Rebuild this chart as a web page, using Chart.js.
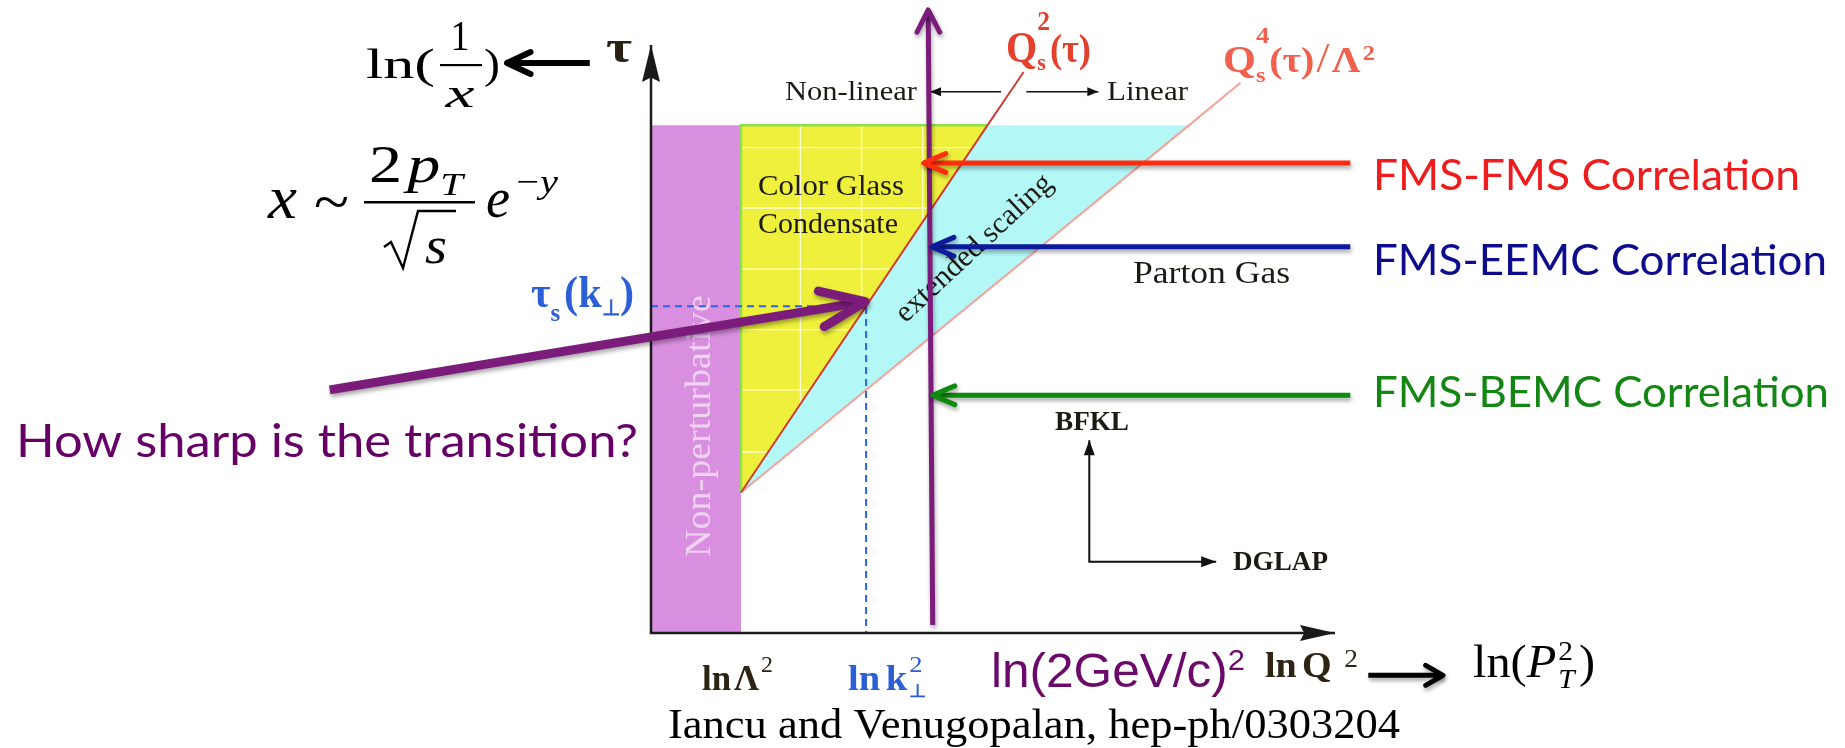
<!DOCTYPE html>
<html>
<head>
<meta charset="utf-8">
<title>Saturation phase diagram</title>
<script src="https://cdn.jsdelivr.net/npm/chart.js@4.4.1/dist/chart.umd.min.js"></script>
<style>
  html, body { margin: 0; padding: 0; background: #ffffff; }
  canvas { display: block; }
</style>
</head>
<body>
<canvas id="diagram" width="1845" height="748"></canvas>
<script>
// ---- phase diagram in the (ln Q², τ) plane ----
const axisEnd          = { x: 7.6, y: 6.53 };
const lnLambda2        = 1.0;                 // edge of the non-perturbative strip
const regionTop        = 5.64;                // upper edge of the shaded regions
const saturationOnset  = { x: 1.0, y: 1.56 };
const qs2Boundary      = [ { x: 1.0, y: 1.56 }, { x: 3.74, y: 5.64 }, { x: 4.14, y: 6.23 } ];
const qs4Boundary      = [ { x: 1.0, y: 1.56 }, { x: 5.98, y: 5.64 }, { x: 6.55, y: 6.11 } ];
const lnKperp2         = 2.39;
const tauSat           = 3.63;
const cgcGridX         = [1.66, 2.34, 3.02];
const cgcGridY         = [5.39, 4.72, 4.04, 3.37, 2.70, 2.01];
const cut2GeV          = [ { x: 3.13, y: 0.09 }, { x: 3.08, y: 6.92 } ];
const correlationNames = ['FMS-FMS Correlation', 'FMS-EEMC Correlation', 'FMS-BEMC Correlation'];
const correlationTau   = [5.22, 4.29, 2.64];
const correlationTip   = [3.03, 3.12, 3.13];
const correlationTail  = 7.77;
const transitionArrow  = [ { x: -3.57, y: 2.70 }, { x: 2.38, y: 3.68 } ];
const evolutionCorner  = { x: 4.87, y: 0.79 };
const bfklTipTau       = 2.14;
const dglapTipX        = 6.28;
const regimeTau        = 6.01;
const nonLinearSpan    = [3.89, 3.10];
const linearSpan       = [4.17, 4.97];
const lnInvXArrow      = [ { x: -0.68, y: 6.33 }, { x: -1.60, y: 6.33 } ];
const lnPtArrow        = [ { x: 7.97, y: -0.47 }, { x: 8.80, y: -0.47 } ];

const SERIF = '"Liberation Serif", "Times New Roman", serif';
const SANS  = '"Liberation Sans", Arial, sans-serif';
const HUMAN = 'Lato, "Open Sans", sans-serif';
const font = (size, family, style) => (style ? style + ' ' : '') + size + 'px ' + family;

const PURPLE = '#7b1c7b';
const corrColors = ['#ff2d0d', '#0b1b9c', '#0f8a0f'];
const corrText   = ['#ee1c1c', '#0c0c8c', '#138613'];

// draw a run of text pieces (sub/superscripts) stretched to a given width
function rich(ctx, parts, x, y, o = {}) {
  let cur = 0, prevStart = 0;
  const placed = parts.map(p => {
    ctx.font = p.font;
    const w = ctx.measureText(p.t).width;
    const start = p.stack ? prevStart : cur + (p.pre || 0);
    prevStart = start;
    cur = Math.max(cur, start + w);
    return { p, start };
  });
  const sx = o.width ? o.width / cur : 1;
  const off = o.align === 'center' ? -cur * sx / 2 : o.align === 'right' ? -cur * sx : 0;
  ctx.save();
  ctx.translate(x, y);
  if (o.rotate) ctx.rotate(o.rotate);
  ctx.translate(off, o.dy || 0);
  ctx.scale(sx, 1);
  ctx.textAlign = 'left';
  ctx.textBaseline = 'alphabetic';
  placed.forEach(({ p, start }) => {
    ctx.font = p.font;
    ctx.fillStyle = p.color || o.color || '#000';
    ctx.fillText(p.t, start, p.dy || 0);
  });
  ctx.restore();
}

function drawHead(ctx, tip, from, spec, color, lw) {
  const ang = Math.atan2(tip.y - from.y, tip.x - from.x) + Math.PI;
  const spread = spec.kind === 'solid' ? Math.atan2(spec.half, spec.len) : spec.spread * Math.PI / 180;
  const L = spec.kind === 'solid' ? Math.hypot(spec.len, spec.half) : spec.len;
  const p1 = { x: tip.x + L * Math.cos(ang + spread), y: tip.y + L * Math.sin(ang + spread) };
  const p2 = { x: tip.x + L * Math.cos(ang - spread), y: tip.y + L * Math.sin(ang - spread) };
  ctx.save();
  ctx.beginPath();
  if (spec.kind === 'solid') {
    const n = spec.len * (1 - (spec.notch || 0));
    ctx.moveTo(tip.x, tip.y);
    ctx.lineTo(p1.x, p1.y);
    ctx.lineTo(tip.x + n * Math.cos(ang), tip.y + n * Math.sin(ang));
    ctx.lineTo(p2.x, p2.y);
    ctx.closePath();
    ctx.fillStyle = color;
    ctx.fill();
  } else {
    ctx.moveTo(p1.x, p1.y);
    ctx.lineTo(tip.x, tip.y);
    ctx.lineTo(p2.x, p2.y);
    ctx.strokeStyle = color;
    ctx.lineWidth = lw;
    ctx.lineCap = 'round';
    ctx.lineJoin = 'round';
    ctx.stroke();
  }
  ctx.restore();
}

function drawCgcGrid(chart) {
  const ctx = chart.ctx, X = v => chart.scales.x.getPixelForValue(v), Y = v => chart.scales.y.getPixelForValue(v);
  ctx.save();
  ctx.beginPath();
  ctx.moveTo(X(qs2Boundary[0].x), Y(qs2Boundary[0].y));
  ctx.lineTo(X(qs2Boundary[1].x), Y(qs2Boundary[1].y));
  ctx.lineTo(X(lnLambda2), Y(regionTop));
  ctx.closePath();
  ctx.clip();
  ctx.strokeStyle = 'rgba(255,255,255,0.8)';
  ctx.lineWidth = 1.3;
  ctx.beginPath();
  cgcGridX.forEach(v => { ctx.moveTo(X(v), Y(0)); ctx.lineTo(X(v), Y(regionTop)); });
  cgcGridY.forEach(v => { ctx.moveTo(X(0), Y(v)); ctx.lineTo(X(axisEnd.x), Y(v)); });
  ctx.stroke();
  ctx.restore();
}

function drawRegionLabels(chart) {
  const ctx = chart.ctx;
  const ink = '#1c1a12';
  rich(ctx, [{ t: 'Non-perturbative', font: font(36, SERIF) }], 710, 557,
       { rotate: -Math.PI / 2, width: 262, color: 'rgba(255,255,255,0.6)' });
  rich(ctx, [{ t: 'Color Glass', font: font(30, SERIF) }], 758, 195, { width: 146, color: ink });
  rich(ctx, [{ t: 'Condensate', font: font(30, SERIF) }], 758, 233, { width: 140, color: ink });
  rich(ctx, [{ t: 'extended scaling', font: font(30, SERIF) }], 973, 247,
       { rotate: -43 * Math.PI / 180, align: 'center', dy: 10, width: 203, color: ink });
  rich(ctx, [{ t: 'Parton Gas', font: font(32, SERIF) }], 1133, 283, { width: 157, color: ink });
  rich(ctx, [{ t: 'BFKL', font: font(27, SERIF, 'bold') }], 1055, 430, { width: 74, color: ink });
  rich(ctx, [{ t: 'DGLAP', font: font(27, SERIF, 'bold') }], 1233, 570, { width: 95, color: ink });
  rich(ctx, [{ t: 'Non-linear', font: font(28, SERIF) }], 785, 100, { width: 132, color: ink });
  rich(ctx, [{ t: 'Linear', font: font(28, SERIF) }], 1107, 100, { width: 81, color: ink });
  rich(ctx, [
    { t: 'Q', font: font(44, SERIF, 'bold') },
    { t: '2', font: font(28, SERIF, 'bold'), dy: -32 },
    { t: 's', font: font(24, SERIF, 'bold'), dy: 8, stack: true },
    { t: '(τ)', font: font(40, SERIF, 'bold') }
  ], 1006, 62, { width: 85, color: '#e4402e' });
  rich(ctx, [
    { t: 'Q', font: font(38, SERIF, 'bold') },
    { t: '4', font: font(24, SERIF, 'bold'), dy: -29 },
    { t: 's', font: font(22, SERIF, 'bold'), dy: 10, stack: true },
    { t: '(τ)', font: font(36, SERIF, 'bold') },
    { t: '/', font: font(42, SERIF), pre: 2 },
    { t: 'Λ', font: font(36, SERIF, 'bold'), pre: 2 },
    { t: '2', font: font(22, SERIF, 'bold'), dy: -12, pre: 2 }
  ], 1223, 72, { width: 152, color: '#f0604c' });
}

function drawOuterLabels(chart) {
  const ctx = chart.ctx;
  // ln(1/x)
  rich(ctx, [{ t: 'ln(', font: font(42, SERIF) }], 366, 78, { width: 69 });
  rich(ctx, [{ t: '1', font: font(42, SERIF) }], 460, 50, { align: 'center', width: 19 });
  ctx.fillStyle = '#000';
  ctx.fillRect(440, 64, 42, 2.2);
  rich(ctx, [{ t: 'x', font: font(42, SERIF, 'italic') }], 460, 107, { align: 'center', width: 29 });
  rich(ctx, [{ t: ')', font: font(42, SERIF) }], 484, 78, { width: 16 });

  // x ~ 2 p_T / sqrt(s) e^{-y}
  rich(ctx, [{ t: 'x', font: font(62, SERIF, 'italic') }], 268, 218, { width: 29 });
  rich(ctx, [{ t: '~', font: font(60, SERIF) }], 314, 222, { width: 35 });
  rich(ctx, [
    { t: '2', font: font(52, SERIF) },
    { t: 'p', font: font(52, SERIF, 'italic'), pre: 4 },
    { t: 'T', font: font(32, SERIF, 'italic'), dy: 13 }
  ], 369, 182, { width: 94 });
  ctx.fillRect(364, 201, 111, 2.5);
  ctx.save();
  ctx.strokeStyle = '#000';
  ctx.lineWidth = 2.4;
  ctx.lineJoin = 'miter';
  ctx.beginPath();
  ctx.moveTo(384, 247); ctx.lineTo(391, 242); ctx.lineTo(403, 268); ctx.lineTo(418, 211); ctx.lineTo(456, 211);
  ctx.stroke();
  ctx.restore();
  rich(ctx, [{ t: 's', font: font(52, SERIF, 'italic') }], 425, 263, { width: 22 });
  rich(ctx, [{ t: 'e', font: font(58, SERIF, 'italic') }], 486, 217, { width: 24 });
  rich(ctx, [
    { t: '−', font: font(34, SERIF) },
    { t: 'y', font: font(34, SERIF, 'italic'), pre: 1 }
  ], 516, 193, { width: 42 });

  // axis names
  rich(ctx, [{ t: 'τ', font: font(46, SERIF, 'bold') }], 606, 62, { width: 26, color: '#2a2014' });
  rich(ctx, [
    { t: 'τ', font: font(44, SERIF, 'bold') },
    { t: 's', font: font(26, SERIF, 'bold'), dy: 14 },
    { t: '(k', font: font(44, SERIF, 'bold'), pre: 4 },
    { t: '⊥', font: font(22, SERIF, 'bold'), dy: 8 },
    { t: ')', font: font(44, SERIF, 'bold') }
  ], 634, 307, { align: 'right', width: 103, color: '#2c5fd6' });

  // positions on the ln Q² axis
  const tickInk = '#2d2414';
  rich(ctx, [
    { t: 'ln', font: font(35, SERIF, 'bold') },
    { t: 'Λ', font: font(35, SERIF, 'bold'), pre: 3 },
    { t: '2', font: font(24, SERIF), dy: -18, pre: 2 }
  ], 702, 690, { width: 71, color: tickInk });
  rich(ctx, [
    { t: 'ln', font: font(35, SERIF, 'bold') },
    { t: 'k', font: font(35, SERIF, 'bold'), pre: 5 },
    { t: '2', font: font(24, SERIF), dy: -18, pre: 2 },
    { t: '⊥', font: font(18, SERIF, 'bold'), dy: 7, stack: true }
  ], 848, 690, { width: 79, color: '#2c5fd6' });
  rich(ctx, [
    { t: 'ln(2GeV/c)', font: font(48, SANS) },
    { t: '2', font: font(30, SANS), dy: -17 }
  ], 991, 687, { width: 254, color: '#6b0a6b' });
  rich(ctx, [
    { t: 'ln', font: font(36, SERIF, 'bold') },
    { t: 'Q', font: font(36, SERIF, 'bold'), pre: 5 },
    { t: '2', font: font(26, SERIF), dy: -10, pre: 12 }
  ], 1265, 677, { width: 93, color: tickInk });
  rich(ctx, [
    { t: 'ln(', font: font(46, SERIF) },
    { t: 'P', font: font(46, SERIF, 'italic') },
    { t: '2', font: font(28, SERIF), dy: -17, pre: 2 },
    { t: 'T', font: font(28, SERIF, 'italic'), dy: 11, stack: true },
    { t: ')', font: font(46, SERIF), pre: 4 }
  ], 1473, 677, { width: 122 });

  rich(ctx, [{ t: 'Iancu and Venugopalan, hep-ph/0303204', font: font(43, SERIF) }], 668, 738, { width: 732 });
  rich(ctx, [{ t: 'How sharp is the transition?', font: font(47, HUMAN) }], 16, 457, { width: 622, color: '#660066' });

  const corrBase = [190, 275, 407];
  const corrWidth = [427, 454, 456];
  correlationNames.forEach((name, i) => {
    rich(ctx, [{ t: name, font: font(42, HUMAN) }], 1373, corrBase[i], { width: corrWidth[i], color: corrText[i] });
  });
}

const shadowed = new Set();
const annotate = {
  id: 'phaseAnnotations',
  beforeDatasetDraw(chart, args) {
    const ds = chart.data.datasets[args.index];
    if (ds.shadow) {
      const c = chart.ctx;
      c.save();
      c.shadowColor = 'rgba(0,0,0,0.35)';
      c.shadowBlur = 4;
      c.shadowOffsetX = 1;
      c.shadowOffsetY = 3;
      shadowed.add(args.index);
    }
  },
  afterDatasetDraw(chart, args) {
    const ds = chart.data.datasets[args.index];
    const pts = args.meta.data;
    if (ds.head && pts.length > 1) {
      if (ds.head.end) drawHead(chart.ctx, pts[pts.length - 1], pts[pts.length - 2], ds.head.end, ds.borderColor, ds.borderWidth);
      if (ds.head.start) drawHead(chart.ctx, pts[0], pts[1], ds.head.start, ds.borderColor, ds.borderWidth);
    }
    if (shadowed.has(args.index)) { chart.ctx.restore(); shadowed.delete(args.index); }
    if (ds.role === 'cgc') drawCgcGrid(chart);
    if (ds.role === 'qs2') drawRegionLabels(chart);
  },
  afterDraw(chart) { drawOuterLabels(chart); }
};

const base = { pointRadius: 0, pointHoverRadius: 0, tension: 0, fill: false, clip: false,
               backgroundColor: 'transparent', borderCapStyle: 'butt' };
const ds = (o) => Object.assign({}, base, o);

const datasets = [
  ds({ role: 'cyanBand', data: qs4Boundary.slice(0, 2), fill: { value: regionTop }, backgroundColor: '#b3f7f7', borderWidth: 0, order: 100 }),
  ds({ role: 'nonPert', data: [{ x: 0, y: regionTop }, { x: lnLambda2, y: regionTop }], fill: 'origin', backgroundColor: '#d98fe0', borderWidth: 0, order: 95 }),
  ds({ role: 'cgc', data: qs2Boundary.slice(0, 2), fill: { value: regionTop }, backgroundColor: '#eef03c', borderWidth: 0, order: 90 }),
  ds({ role: 'cgcEdge', data: [{ x: lnLambda2, y: saturationOnset.y }, { x: lnLambda2, y: regionTop }, { x: qs2Boundary[1].x, y: regionTop }],
       borderColor: '#8ee04c', borderWidth: 2.5, order: 85 }),
  ds({ role: 'qs4', data: qs4Boundary, borderColor: '#f5a39a', borderWidth: 2, order: 80 }),
  ds({ role: 'qs2', data: qs2Boundary, borderColor: '#cc3f36', borderWidth: 2, order: 75 }),
  ds({ role: 'tauS', data: [{ x: 0, y: tauSat }, { x: lnKperp2, y: tauSat }, { x: lnKperp2, y: 0 }],
       borderColor: '#2a62e8', borderWidth: 2, borderDash: [7, 5], order: 70 }),
  ds({ role: 'axes', data: [{ x: 0, y: axisEnd.y }, { x: 0, y: 0 }, { x: axisEnd.x, y: 0 }], borderColor: '#1a1a1a', borderWidth: 2.5,
       order: 60, head: { start: { kind: 'solid', len: 37, half: 9, notch: 0.12 }, end: { kind: 'solid', len: 35, half: 8, notch: 0.12 } } }),
  ds({ role: 'evolution', data: [{ x: evolutionCorner.x, y: bfklTipTau }, evolutionCorner, { x: dglapTipX, y: evolutionCorner.y }],
       borderColor: '#111', borderWidth: 2, order: 55,
       head: { start: { kind: 'solid', len: 15, half: 5.5 }, end: { kind: 'solid', len: 15, half: 5.5 } } }),
  ds({ role: 'nonLinear', data: nonLinearSpan.map(x => ({ x, y: regimeTau })), borderColor: '#111', borderWidth: 1.6, order: 55,
       head: { end: { kind: 'solid', len: 11, half: 4.5 } } }),
  ds({ role: 'linear', data: linearSpan.map(x => ({ x, y: regimeTau })), borderColor: '#111', borderWidth: 1.6, order: 55,
       head: { end: { kind: 'solid', len: 11, half: 4.5 } } }),
  ds({ role: 'cut', data: cut2GeV, borderColor: PURPLE, borderWidth: 5, order: 40, shadow: true,
       head: { end: { kind: 'chevron', len: 25, spread: 27 } } }),
  ...correlationNames.map((name, i) => ds({
       role: 'corr', label: name, data: [{ x: correlationTail, y: correlationTau[i] }, { x: correlationTip[i], y: correlationTau[i] }],
       borderColor: corrColors[i], borderWidth: 5, order: 30, shadow: true,
       head: { end: { kind: 'chevron', len: 24, spread: 23 } } })),
  ds({ role: 'transition', data: transitionArrow, borderColor: PURPLE, borderWidth: 9, order: 20, shadow: true,
       head: { end: { kind: 'chevron', len: 48, spread: 22 } } }),
  ds({ role: 'lnInvX', data: lnInvXArrow, borderColor: '#000', borderWidth: 6, order: 20,
       head: { end: { kind: 'chevron', len: 26, spread: 25 } } }),
  ds({ role: 'lnPt', data: lnPtArrow, borderColor: '#000', borderWidth: 5, order: 20, shadow: true,
       head: { end: { kind: 'chevron', len: 20, spread: 30 } } })
];

new Chart(document.getElementById('diagram'), {
  type: 'line',
  data: { datasets },
  options: {
    responsive: false,
    animation: false,
    devicePixelRatio: 1,
    events: [],
    layout: { padding: { left: 651, right: 510, top: 45, bottom: 115 } },
    scales: {
      x: { type: 'linear', bounds: 'data', min: 0, max: axisEnd.x, display: false },
      y: { type: 'linear', bounds: 'data', min: 0, max: axisEnd.y, display: false }
    },
    plugins: { legend: { display: false }, tooltip: { enabled: false }, title: { display: false } }
  },
  plugins: [annotate]
});
</script>
</body>
</html>
